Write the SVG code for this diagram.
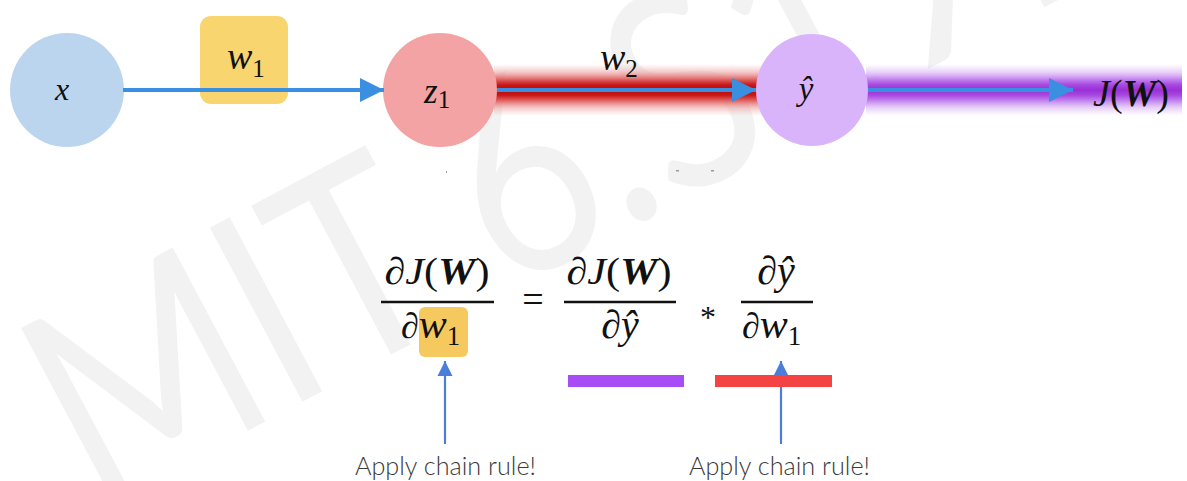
<svg xmlns="http://www.w3.org/2000/svg" width="1187" height="481" viewBox="0 0 1187 481">
<defs>
<style>
.var{font-family:"Liberation Serif","DejaVu Serif",serif;font-style:italic;fill:#111;}
.up{font-family:"Liberation Serif","DejaVu Serif",serif;font-style:normal;fill:#111;}
.bw{font-family:"Liberation Serif","DejaVu Serif",serif;font-style:italic;font-weight:bold;fill:#111;}
.note{font-family:Lato,"Liberation Sans","DejaVu Sans",sans-serif;font-weight:300;font-size:25px;fill:#3a3a3a;}
.conn{stroke:#3a8fe0;stroke-width:4;fill:none;}
.ptr{stroke:#4a7ed8;stroke-width:2.2;fill:none;}
.bar{stroke:#111;stroke-width:2.6;}
.wm{font-family:Lato,"Liberation Sans","DejaVu Sans",sans-serif;font-weight:400;font-size:275px;fill:#f2f2f2;}
</style>
<linearGradient id="redBand" x1="0" y1="0" x2="0" y2="1">
<stop offset="0" stop-color="#f2b0b0" stop-opacity="0"/>
<stop offset="0.15" stop-color="#eda0a0" stop-opacity="0.55"/>
<stop offset="0.3" stop-color="#e06060"/>
<stop offset="0.4" stop-color="#c81818"/>
<stop offset="0.5" stop-color="#b80808"/>
<stop offset="0.6" stop-color="#c81818"/>
<stop offset="0.7" stop-color="#e06060"/>
<stop offset="0.85" stop-color="#eda0a0" stop-opacity="0.55"/>
<stop offset="1" stop-color="#f2b0b0" stop-opacity="0"/>
</linearGradient>
<linearGradient id="purpleBand" x1="0" y1="0" x2="0" y2="1">
<stop offset="0" stop-color="#e0c0f8" stop-opacity="0"/>
<stop offset="0.15" stop-color="#d8aef4" stop-opacity="0.55"/>
<stop offset="0.3" stop-color="#c080ee"/>
<stop offset="0.4" stop-color="#a848e0"/>
<stop offset="0.5" stop-color="#9a30d8"/>
<stop offset="0.6" stop-color="#a848e0"/>
<stop offset="0.7" stop-color="#c080ee"/>
<stop offset="0.85" stop-color="#d8aef4" stop-opacity="0.55"/>
<stop offset="1" stop-color="#e0c0f8" stop-opacity="0"/>
</linearGradient>
<marker id="ah" markerWidth="6" markerHeight="6" refX="6" refY="3" orient="auto" markerUnits="strokeWidth">
<path d="M0,0 L6,3 L0,6 Z" fill="#3a8fe0"/>
</marker>
<marker id="ah2" markerWidth="8" markerHeight="8" refX="7" refY="4" orient="auto" markerUnits="strokeWidth">
<path d="M0,0.5 L7,4 L0,7.5 Z" fill="#4a7ed8"/>
</marker>
</defs>
<rect width="1187" height="481" fill="#ffffff"/>

<g id="watermark">
<text class="wm" transform="translate(95,512) rotate(-28)" x="0" y="0" textLength="1180" lengthAdjust="spacingAndGlyphs">MIT 6.S191</text>
</g>

<g id="bands">
<rect x="494" y="64" width="268" height="52" fill="url(#redBand)"/>
<rect x="866" y="64" width="316" height="52" fill="url(#purpleBand)"/>
</g>

<g id="node-x">
<circle cx="67" cy="90" r="57" fill="#bcd5ee"/>
<text class="var" x="62" y="100" font-size="32" text-anchor="middle">x</text>
</g>

<g id="node-w1">
<rect x="200" y="16" width="88" height="88" rx="11" fill="#f8d56f"/>
<text x="227" y="69"><tspan class="var" font-size="38">w</tspan><tspan class="up" font-size="25" dy="8">1</tspan></text>
</g>

<g id="node-z1">
<circle cx="440" cy="90" r="57" fill="#f3a3a3"/>
<text x="424" y="103"><tspan class="var" font-size="35">z</tspan><tspan class="up" font-size="25" dy="5">1</tspan></text>
</g>

<g id="label-w2">
<text x="600" y="70"><tspan class="var" font-size="38">w</tspan><tspan class="up" font-size="25" dy="7">2</tspan></text>
</g>

<g id="node-yhat">
<circle cx="812" cy="90" r="56" fill="#dab4fb"/>
<text class="var" x="806" y="100" font-size="33" text-anchor="middle">ŷ</text>
</g>

<g id="node-J">
<text x="1169" y="106" text-anchor="end" font-size="38"><tspan class="var">J</tspan><tspan class="up">(</tspan><tspan class="bw">W</tspan><tspan class="up">)</tspan></text>
</g>

<g id="connectors">
<line class="conn" x1="123" y1="90" x2="384" y2="90" marker-end="url(#ah)"/>
<line class="conn" x1="497" y1="90" x2="756" y2="90" marker-end="url(#ah)"/>
<line class="conn" x1="868" y1="90" x2="1073" y2="90" marker-end="url(#ah)"/>
<line class="ptr" x1="445" y1="444" x2="445" y2="361" marker-end="url(#ah2)"/>
<line class="ptr" x1="781" y1="444" x2="781" y2="361" marker-end="url(#ah2)"/>
</g>

<g id="specks" fill="#9a9a9a">
<rect x="446" y="171" width="1" height="2"/>
<rect x="676" y="170" width="3" height="1.5"/>
<rect x="711" y="170" width="3" height="1.5"/>
</g>

<g id="equation">
<rect x="419" y="307" width="49" height="50" rx="6" fill="#f6c95e"/>
<text x="437" y="284" text-anchor="middle" font-size="38" textLength="105" lengthAdjust="spacingAndGlyphs"><tspan class="up">∂</tspan><tspan class="var">J</tspan><tspan class="up">(</tspan><tspan class="bw">W</tspan><tspan class="up">)</tspan></text>
<line class="bar" x1="381" y1="302" x2="494" y2="302"/>
<text x="401" y="338"><tspan class="up" font-size="36">∂</tspan><tspan class="var" font-size="42">w</tspan><tspan class="up" font-size="27" dy="7">1</tspan></text>

<text class="up" x="533" y="312" font-size="38" text-anchor="middle">=</text>

<text x="619" y="284" text-anchor="middle" font-size="38" textLength="105" lengthAdjust="spacingAndGlyphs"><tspan class="up">∂</tspan><tspan class="var">J</tspan><tspan class="up">(</tspan><tspan class="bw">W</tspan><tspan class="up">)</tspan></text>
<line class="bar" x1="564" y1="302" x2="676" y2="302"/>
<text x="620" y="338" text-anchor="middle" font-size="40"><tspan class="up">∂</tspan><tspan class="var">ŷ</tspan></text>

<text class="up" x="708" y="328" font-size="32" text-anchor="middle">*</text>

<text x="776" y="284" text-anchor="middle" font-size="40"><tspan class="up">∂</tspan><tspan class="var">ŷ</tspan></text>
<line class="bar" x1="741" y1="302" x2="813" y2="302"/>
<text x="742" y="338"><tspan class="up" font-size="36">∂</tspan><tspan class="var" font-size="42">w</tspan><tspan class="up" font-size="27" dy="7">1</tspan></text>
</g>

<g id="underbars">
<rect x="568" y="375" width="116" height="12" fill="#a84cf6"/>
<rect x="715" y="375" width="117" height="12" fill="#f44343"/>
</g>

<g id="notes">
<text class="note" x="355" y="475" textLength="181" lengthAdjust="spacingAndGlyphs">Apply chain rule!</text>
<text class="note" x="689" y="475" textLength="181" lengthAdjust="spacingAndGlyphs">Apply chain rule!</text>
</g>
</svg>
